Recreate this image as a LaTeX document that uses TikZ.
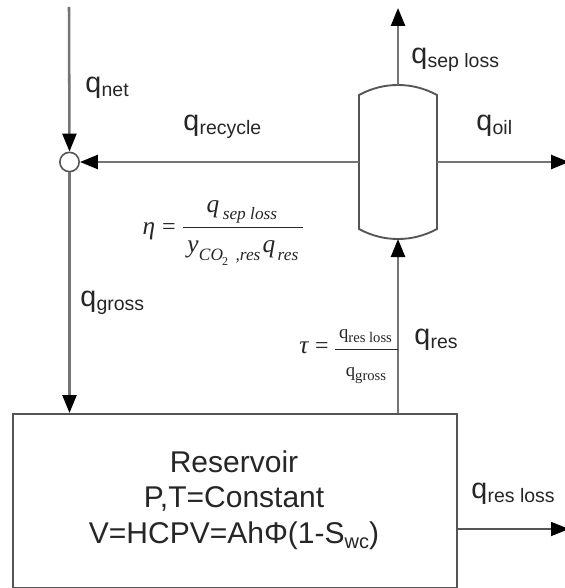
\documentclass[tikz,border=0pt]{standalone}
\usepackage{fontspec}
\setmainfont{Liberation Sans}
\newfontfamily\mathserif{Liberation Serif}
\usetikzlibrary{arrows.meta}
\definecolor{linegray}{HTML}{747474}
\definecolor{edgegray}{HTML}{555555}
\definecolor{textgray}{HTML}{262626}
\tikzset{
  flow/.style={draw=linegray,line width=1.9pt,-{Triangle[length=13.5pt,width=10.5pt,color=black]}},
  thinflow/.style={draw=edgegray,line width=1.3pt,-{Triangle[length=13.5pt,width=10.5pt,color=black]}},
  plain/.style={draw=edgegray,line width=1.4pt},
  fracline/.style={draw=textgray,line width=0.75pt},
  lab/.style={inner sep=0pt,anchor=base west,font=\fontsize{21.5}{22}\selectfont,text=textgray},
  restxt/.style={inner sep=0pt,anchor=base,font=\fontsize{22.5}{24}\selectfont,text=textgray},
  big/.style={inner sep=0pt,anchor=base,font=\mathserif\itshape\fontsize{19}{19}\selectfont,text=textgray},
  bigup/.style={inner sep=0pt,anchor=base,font=\mathserif\fontsize{18}{18}\selectfont,text=textgray},
  small/.style={inner sep=0pt,anchor=base,font=\mathserif\itshape\fontsize{13}{13}\selectfont,text=textgray},
  tiny/.style={inner sep=0pt,anchor=base,font=\mathserif\fontsize{9}{9}\selectfont,text=textgray},
  tauq/.style={inner sep=0pt,anchor=base,font=\mathserif\fontsize{14}{14}\selectfont,text=textgray}
}
\newcommand{\qsub}[1]{q\kern0.3pt{\fontsize{14.6}{14}\selectfont\raisebox{-3pt}{#1}}}
\newcommand{\tausub}[1]{q{\fontsize{11}{11}\selectfont\raisebox{-3pt}{#1}}}
\begin{document}
\begin{tikzpicture}[x=0.75pt,y=-0.75pt]
\useasboundingbox (0,0) rectangle (564,588);
\fill[white] (0,0) rectangle (564,588);

% free ends
\coordinate (top) at (69,7);
\coordinate (sepout) at (398,8);
\coordinate (oilout) at (569,162);
\coordinate (lossout) at (569,529);

% reservoir
\node[draw=edgegray,line width=1.4pt,minimum width=333pt,minimum height=130.5pt,inner sep=0pt,anchor=north west] (res) at (12,413) {};
\node[restxt] (r1) at (234,472) {Reservoir};
\node[restxt] (r2) at (234,507) {P,T=Constant};
\node[restxt] (r3) at (234,543) {V=HCPV=AhΦ(1-S{\fontsize{15}{15}\selectfont\raisebox{-3.75pt}{wc}})};

% separator vessel
\coordinate (vt) at (398,85);
\coordinate (vb) at (398,239);
\coordinate (vl) at (359,162);
\coordinate (vr) at (437,162);
\draw[plain] (359,95) .. controls (372,88) and (385,85) .. (vt)
  .. controls (411,85) and (424,88) .. (437,95) -- (437,229)
  .. controls (424,236) and (411,239) .. (vb)
  .. controls (385,239) and (372,236) .. (359,229) -- cycle;

% mixing junction
\node[circle,draw=edgegray,line width=1.2pt,fill=white,minimum size=14.5pt,inner sep=0pt] (mix) at (69.5,162) {};

% streams
\draw[flow] (top) -- (mix.north);
\draw[flow] (vl) -- (mix.east);
\draw[flow] (mix.south) -- (mix.south |- res.north);
\draw[flow] (vt) -- (sepout);
\draw[flow] (vr) -- (oilout);
\coordinate (resfoot) at (398,413);
\draw[flow] (resfoot) -- (vb);
\draw[thinflow] (res.east |- lossout) -- (lossout);

% stream labels
\node[lab] (lnet) at (85,93) {\qsub{net}};
\node[lab] (lrec) at (183,131) {\qsub{recycle}};
\node[lab] (lsep) at (411,64) {\qsub{sep loss}};
\node[lab] (loil) at (476,131) {\qsub{oil}};
\node[lab] (lgro) at (80,306) {\qsub{gross}};
\node[lab] (lres) at (414,344) {\qsub{res}};
\node[lab] (lrl) at (471,498) {\qsub{res loss}};

% eta equation
\node[big] (eta) at (149,234) {η};
\node[bigup] (eq1) at (169,234) {=};
\coordinate (etaL) at (183,227);
\coordinate (etaR) at (303,227);
\draw[fracline] (etaL) -- (etaR);
\node[big] (n1) at (213,212) {q};
\node[small] (n2) at (250,219) {sep loss};
\node[big] (d1) at (193,252) {y};
\node[small] (d2) at (211,260) {CO};
\node[tiny] (d3) at (225,265) {2};
\node[small] (d4) at (248,260) {,res};
\node[big] (d5) at (269,252) {q};
\node[small] (d6) at (288,260) {res};

% tau equation
\node[big] (tau) at (304,353) {τ};
\node[bigup] (eq2) at (322,353) {=};
\coordinate (tauL) at (335,349);
\coordinate (tauR) at (398,349);
\draw[fracline] (tauL) -- (tauR);
\node[tauq] (t1) at (365.5,338) {\tausub{res loss}};
\node[tauq] (t2) at (366,376) {\tausub{gross}};
\end{tikzpicture}
\end{document}
